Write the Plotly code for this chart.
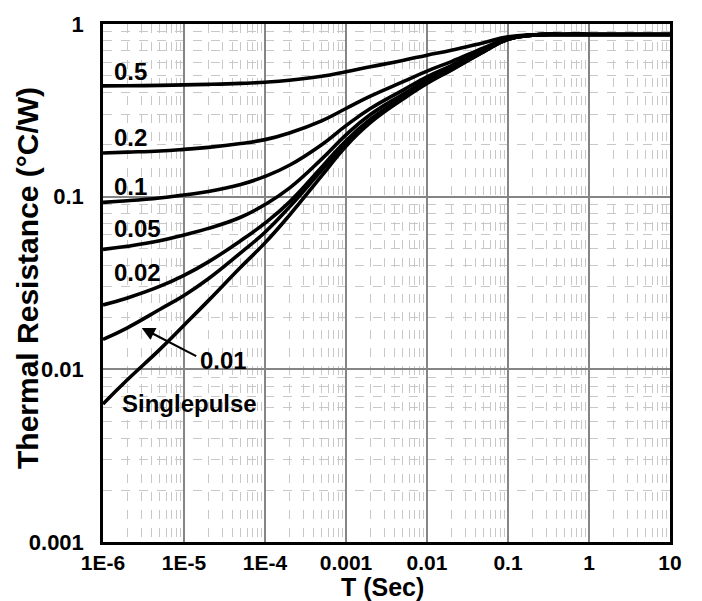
import plotly.graph_objects as go

# Pulse duration (s)
t_sec = [1e-6, 2e-6, 5e-6, 1e-5, 2e-5, 5e-5, 1e-4, 2e-4, 5e-4, 1e-3, 2e-3, 5e-3,
         1e-2, 2e-2, 5e-2, 0.1, 0.2, 0.5, 1, 2, 5, 10]

# Thermal resistance (°C/W)
z_d05 = [0.438, 0.439, 0.441, 0.444, 0.447, 0.453, 0.460, 0.472, 0.498, 0.529, 0.565, 0.615,
         0.660, 0.705, 0.780, 0.843, 0.866, 0.870, 0.870, 0.870, 0.870, 0.870]
z_d02 = [0.179, 0.181, 0.184, 0.188, 0.193, 0.203, 0.214, 0.234, 0.275, 0.324, 0.382, 0.462,
         0.534, 0.606, 0.726, 0.826, 0.864, 0.870, 0.870, 0.870, 0.870, 0.870]
z_d01 = [0.0927, 0.0947, 0.0983, 0.1023, 0.1070, 0.1175, 0.131, 0.152, 0.200, 0.258, 0.324, 0.413,
         0.494, 0.574, 0.708, 0.821, 0.863, 0.870, 0.870, 0.870, 0.870, 0.870]
z_d005 = [0.0495, 0.0516, 0.0555, 0.0600, 0.0655, 0.0760, 0.090, 0.112, 0.165, 0.228, 0.299, 0.391,
          0.474, 0.558, 0.699, 0.818, 0.862, 0.870, 0.870, 0.870, 0.870, 0.870]
z_d002 = [0.0236, 0.0259, 0.0302, 0.0350, 0.0419, 0.0556, 0.0703, 0.093, 0.148, 0.211, 0.281, 0.376,
          0.461, 0.548, 0.694, 0.816, 0.862, 0.870, 0.870, 0.870, 0.870, 0.870]
z_d001 = [0.0149, 0.0174, 0.0222, 0.0268, 0.0335, 0.0473, 0.0622, 0.087, 0.142, 0.205, 0.275, 0.371,
          0.457, 0.544, 0.692, 0.816, 0.862, 0.870, 0.870, 0.870, 0.870, 0.870]
z_single = [0.0063, 0.0087, 0.0130, 0.0180, 0.0250, 0.0390, 0.0540, 0.0780, 0.132, 0.196, 0.268, 0.366,
            0.452, 0.541, 0.690, 0.815, 0.862, 0.870, 0.870, 0.870, 0.870, 0.870]

series = [("0.5", z_d05), ("0.2", z_d02), ("0.1", z_d01), ("0.05", z_d005),
          ("0.02", z_d002), ("0.01", z_d001), ("Singlepulse", z_single)]

x_tickvals = [1e-6, 1e-5, 1e-4, 1e-3, 1e-2, 0.1, 1, 10]
x_ticktext = ["1E-6", "1E-5", "1E-4", "0.001", "0.01", "0.1", "1", "10"]
y_tickvals = [0.001, 0.01, 0.1, 1]
y_ticktext = ["0.001", "0.01", "0.1", "1"]

FONT = "Liberation Sans, Arial, sans-serif"

fig = go.Figure()
for name, z in series:
    fig.add_trace(go.Scatter(x=t_sec, y=z, mode="lines", name=name,
                             line=dict(color="black", width=3.6, shape="spline", smoothing=1.3),
                             showlegend=False, hoverinfo="skip"))

axis_common = dict(
    type="log", showline=True, linecolor="black", linewidth=2.5, mirror=True,
    showgrid=True, gridcolor="#858585", gridwidth=1.5, zeroline=False, automargin=False,
    ticks="", ticklen=0,
    minor=dict(dtick="D1", showgrid=True, gridcolor="#c8c8c8", gridwidth=1,
               griddash="dash", ticks=""),
)

fig.update_xaxes(range=[-6, 1], tickvals=x_tickvals, ticktext=x_ticktext,
                 ticklabelstandoff=0,
                 tickfont=dict(family=FONT, size=21, color="black", weight="bold"),
                 **axis_common)
fig.update_yaxes(range=[-3, 0], tickvals=y_tickvals, ticktext=y_ticktext,
                 ticklabelstandoff=12,
                 tickfont=dict(family=FONT, size=22, color="black", weight="bold"),
                 **axis_common)

lab_font = dict(family=FONT, size=24, color="black", weight="bold")
labels = [("0.5", -5.893, -0.275), ("0.2", -5.893, -0.657), ("0.1", -5.893, -0.941),
          ("0.05", -5.893, -1.187), ("0.02", -5.893, -1.442), ("0.01", -4.827, -1.951),
          ("Singlepulse", -5.79, -2.195)]
annotations = []
for text, lx, ly in labels:
    annotations.append(dict(x=lx, y=ly, xref="x", yref="y", text=text, showarrow=False,
                            xanchor="left", yanchor="middle", font=lab_font))

# arrow pointing to the 0.01 curve
annotations.append(dict(x=-5.522, y=-1.760, xref="x", yref="y", text="", showarrow=True,
                        ax=56, ay=29, arrowhead=2, arrowsize=1.2, arrowwidth=2.2,
                        arrowcolor="black"))

# axis titles
annotations.append(dict(x=0, y=0.5, xref="paper", yref="paper",
                        text="Thermal Resistance (°C/W)", textangle=-90, showarrow=False,
                        xanchor="center", yanchor="middle", xshift=-76, yshift=5,
                        font=dict(family=FONT, size=30, color="black", weight="bold")))
annotations.append(dict(x=0.5, y=0, xref="paper", yref="paper", text="T (Sec)",
                        showarrow=False, xanchor="center", yanchor="middle",
                        xshift=-4, yshift=-45,
                        font=dict(family=FONT, size=25, color="black", weight="bold")))

# page body has an 8px default margin: figure is sized so the plot area lands
# at x 103..670, y 24..542 in the 702x601 window
fig.update_layout(
    width=694, height=593,
    margin=dict(l=95, r=32, t=16, b=59),
    paper_bgcolor="white", plot_bgcolor="white",
    annotations=annotations,
)

fig.write_html("out.html")
